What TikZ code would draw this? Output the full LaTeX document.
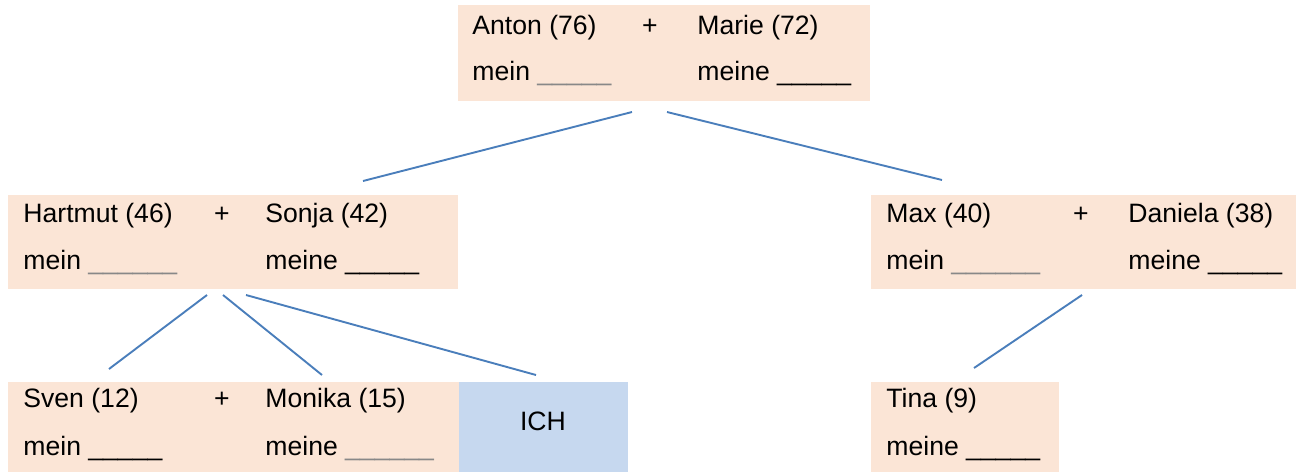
\documentclass[tikz,border=0pt]{standalone}
\usepackage{fontspec}
\setmainfont{Liberation Sans}
\usetikzlibrary{positioning}
\definecolor{peach}{HTML}{FBE5D6}
\definecolor{lightblue}{HTML}{C6D8EF}
\definecolor{linkblue}{HTML}{4A7EBB}
\definecolor{blankgray}{HTML}{888888}
\newcommand{\blank}[1]{\foreach \i in {1,...,#1}{\_}}
\begin{document}
\begin{tikzpicture}[x=0.5pt, y=-0.5pt,
        every node/.style={font=\fontsize{13.3}{16}\selectfont},
        link/.style={draw=linkblue, line width=0.95pt}]
      \tikzstyle{family} = [fill=peach, inner sep=0pt, anchor=north west]
      \tikzstyle{me} = [fill=lightblue, inner sep=0pt, anchor=north west]
      \tikzstyle{person} = [inner sep=0pt, anchor=base west]
      \tikzstyle{plus} = [inner sep=0pt, anchor=base]
      \useasboundingbox (0,0) rectangle (1306,472);
      % boxes
      \node (grand) [family, minimum width=206pt, minimum height=48pt] at (458,5) {};
      \node (left) [family, minimum width=225pt, minimum height=47pt] at (8,195) {};
      \node (right) [family, minimum width=212.5pt, minimum height=47pt] at (871,195) {};
      \node (sibs) [family, minimum width=225.5pt, minimum height=45pt] at (8,382) {};
      \node (ich) [me, minimum width=84.5pt, minimum height=45pt] at (459,382) {};
      \node (tina) [family, minimum width=94pt, minimum height=45pt] at (871,382) {};
      % texts
      \node (anton) [person] at (472,34) {Anton (76)};
      \node [plus] at (650,34) {+};
      \node (marie) [person] at (697,34) {Marie (72)};
      \node [person] at (472,80) {mein {\color{blankgray}\blank{5}}};
      \node [person] at (697,80) {meine \blank{5}};
      \node (hartmut) [person] at (23,222) {Hartmut (46)};
      \node [plus] at (222,222) {+};
      \node (sonja) [person] at (265,222) {Sonja (42)};
      \node [person] at (23,269) {mein {\color{blankgray}\blank{6}}};
      \node [person] at (265,269) {meine \blank{5}};
      \node (max) [person] at (886,222) {Max (40)};
      \node [plus] at (1081,222) {+};
      \node (daniela) [person] at (1128,222) {Daniela (38)};
      \node [person] at (886,269) {mein {\color{blankgray}\blank{6}}};
      \node [person] at (1128,269) {meine \blank{5}};
      \node (sven) [person] at (23,407) {Sven (12)};
      \node [plus] at (222,407) {+};
      \node (monika) [person] at (265,407) {Monika (15)};
      \node [person] at (23,455) {mein \blank{5}};
      \node [person] at (265,455) {meine {\color{blankgray}\blank{6}}};
      \node [inner sep=0pt, anchor=base] at (543,430) {ICH};
      \node (tinaname) [person] at (886,407) {Tina (9)};
      \node [person] at (886,455) {meine \blank{5}};
      % connectors
      \coordinate (g1) at (632,112);
      \coordinate (g2) at (667,112);
      \coordinate (l0) at (363,181);
      \coordinate (r0) at (942,180);
      \coordinate (l1) at (207,295);
      \coordinate (l2) at (223,295);
      \coordinate (l3) at (246,295);
      \coordinate (s1) at (109,369);
      \coordinate (s2) at (322,375);
      \coordinate (s3) at (536,375);
      \coordinate (r1) at (1082,295);
      \coordinate (t1) at (974,368);
      \draw[link] (g1) -- (l0);
      \draw[link] (g2) -- (r0);
      \draw[link] (l1) -- (s1);
      \draw[link] (l2) -- (s2);
      \draw[link] (l3) -- (s3);
      \draw[link] (r1) -- (t1);
    \end{tikzpicture}
\end{document}
